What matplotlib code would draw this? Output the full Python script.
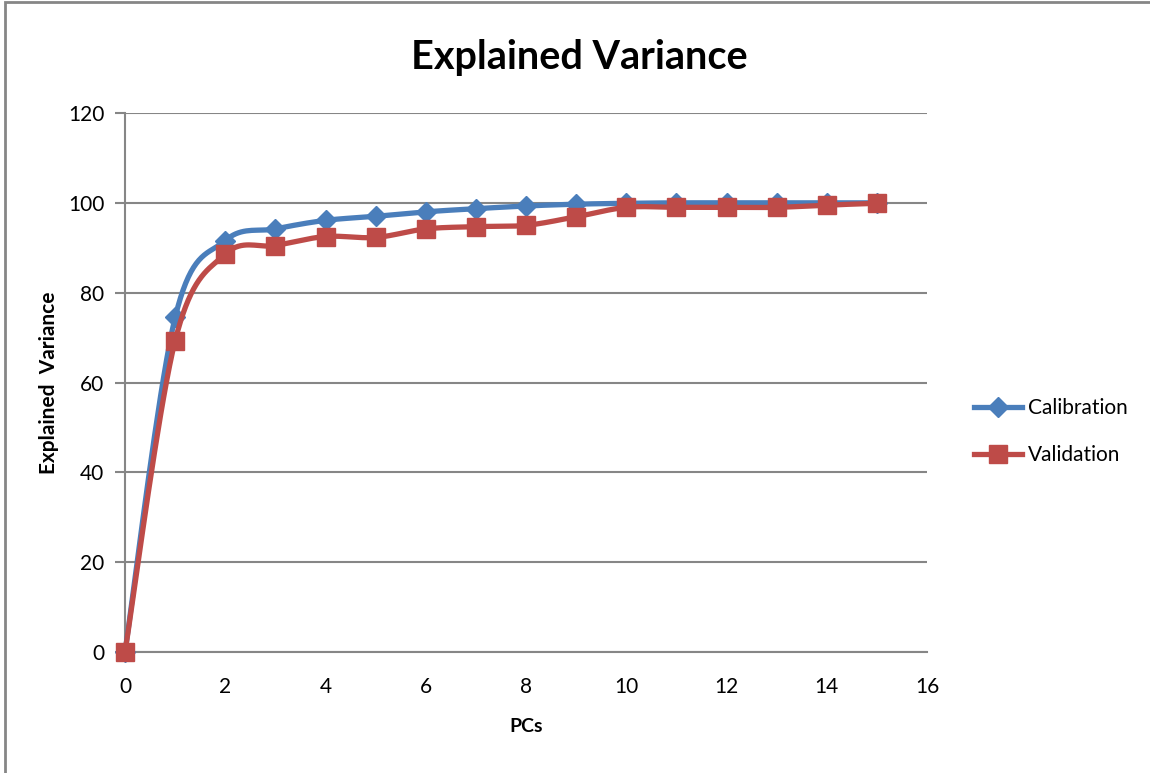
import numpy as np
import matplotlib.pyplot as plt
from matplotlib.patches import Rectangle

plt.rcParams['font.family'] = ['Lato', 'DejaVu Sans']

pcs = [0, 1, 2, 3, 4, 5, 6, 7, 8, 9, 10, 11, 12, 13, 14, 15]
calibration = [0, 74.5, 91.6, 94.2, 96.1, 97.0, 98.0, 98.7, 99.3, 99.7, 99.9, 100, 100, 100, 100, 100]
validation = [0, 69.3, 88.6, 90.5, 92.5, 92.3, 94.2, 94.7, 95.0, 96.9, 99.0, 99.0, 99.0, 99.0, 99.5, 99.9]


def smooth(x, y, n=20):
    # catmull-rom style curve through the points, like excel's smoothed line
    x = np.asarray(x, float)
    y = np.asarray(y, float)
    px = np.concatenate([[x[0]], x, [x[-1]]])
    py = np.concatenate([[y[0]], y, [y[-1]]])
    xs, ys = [], []
    t = np.linspace(0, 1, n)
    for i in range(1, len(px) - 2):
        p0, p1, p2, p3 = px[i - 1], px[i], px[i + 1], px[i + 2]
        q0, q1, q2, q3 = py[i - 1], py[i], py[i + 1], py[i + 2]
        c1x, c1y = p1 + (p2 - p0) / 6, q1 + (q2 - q0) / 6
        c2x, c2y = p2 - (p3 - p1) / 6, q2 - (q3 - q1) / 6
        bx = (1 - t) ** 3 * p1 + 3 * (1 - t) ** 2 * t * c1x + 3 * (1 - t) * t ** 2 * c2x + t ** 3 * p2
        by = (1 - t) ** 3 * q1 + 3 * (1 - t) ** 2 * t * c1y + 3 * (1 - t) * t ** 2 * c2y + t ** 3 * q2
        xs.extend(bx)
        ys.extend(by)
    return xs, ys


blue = '#4a7ebb'
red = '#be4b48'
grid = '#868686'

fig = plt.figure(figsize=(11.5, 7.73), dpi=100)
# chart area border, only left and top edges show in the picture
fig.patches.append(Rectangle((0.0045, -0.05), 1.1, 1.047, transform=fig.transFigure,
                             fill=False, edgecolor=grid, linewidth=2))
ax = fig.add_axes([0.1087, 0.1565, 0.6975, 0.6973])

sx, sy = smooth(pcs, calibration)
ax.plot(sx, sy, color=blue, linewidth=3.8, solid_capstyle='round', zorder=3, clip_on=False)
ax.plot(pcs, calibration, linestyle='none', marker='D', markersize=10, color=blue, zorder=4, clip_on=False)
sx, sy = smooth(pcs, validation)
ax.plot(sx, sy, color=red, linewidth=3.8, solid_capstyle='round', zorder=5, clip_on=False)
ax.plot(pcs, validation, linestyle='none', marker='s', markersize=13, color=red, zorder=6, clip_on=False)

# legend handles
ax.plot([], [], color=blue, linewidth=3.8, marker='D', markersize=10, label='Calibration')
ax.plot([], [], color=red, linewidth=3.8, marker='s', markersize=13, label='Validation')
ax.legend(loc='center left', bbox_to_anchor=(1.035, 0.409), frameon=False, fontsize=15,
          handlelength=2.3, labelspacing=1.3, handletextpad=0.3)

ax.set_xlim(0, 16)
ax.set_ylim(0, 120)
ax.set_xticks(range(0, 17, 2))
ax.set_yticks(range(0, 121, 20))
ax.yaxis.grid(True, color=grid, linewidth=1.5)
ax.set_axisbelow(True)
for s in ['top', 'right']:
    ax.spines[s].set_visible(False)
for s in ['left', 'bottom']:
    ax.spines[s].set_color(grid)
    ax.spines[s].set_linewidth(1.5)
ax.tick_params(axis='both', colors=grid, labelcolor='black', labelsize=15, width=1.5, direction='out')
ax.tick_params(axis='y', length=7, pad=8)
ax.tick_params(axis='x', length=0, pad=18)

fig.text(0.504, 0.926, 'Explained Variance', fontsize=28.5, fontweight='bold', ha='center', va='center')
ax.set_xlabel('PCs', fontsize=14, fontweight='bold', labelpad=15)
ax.set_ylabel('Explained  Variance', fontsize=15, fontweight='bold', labelpad=6)

fig.savefig('out.png', dpi=100)
